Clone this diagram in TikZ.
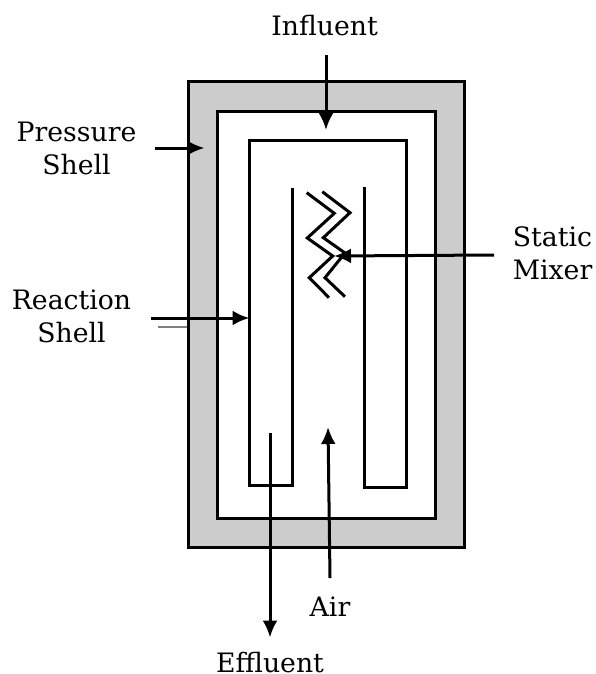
\documentclass[tikz,border=0pt]{standalone}
\usepackage{fontspec}
\setmainfont{DejaVu Serif}
\usetikzlibrary{arrows.meta}
\definecolor{shellgray}{HTML}{CCCCCC}
\tikzset{
  wall/.style={draw=black,line width=3pt,line join=miter},
  flow/.style={draw=black,line width=3pt,-{Latex[length=17pt,width=15pt]},shorten >=0pt},
  lbl/.style={font=\fontsize{26.7pt}{33pt}\selectfont,align=center,inner sep=0pt,text=black}
}
\begin{document}
\begin{tikzpicture}[x=1pt,y=-1pt]
\useasboundingbox (0,0) rectangle (595,674);
\node[draw=black,line width=3pt,fill=shellgray,minimum width=276pt,minimum height=465pt,inner sep=0pt] (pressure) at (326,314.5) {};
\node[draw=black,line width=3pt,fill=white,minimum width=218pt,minimum height=406pt,inner sep=0pt] (reaction) at (326,315) {};
\draw[wall] (292.7,188) -- (292.7,485) -- (249,485) -- (249,140) -- (406,140) -- (406,487) -- (364,487) -- (364,187);
\draw[wall] (306.7,192.7) -- (334.3,213.3) -- (307.3,238) -- (332.7,256) -- (309.3,277.7) -- (329,297.7);
\draw[wall] (322.3,191.7) -- (350,212.7) -- (323.3,237.7) -- (345,253) -- (325,277.7) -- (345,296.7);
\draw[draw=gray,line width=2pt] (158,326.7) -- (187,326.7);
\node[lbl] (influent) at (324.5,26) {Influent};
\node[lbl] (pressureL) at (76.5,148) {Pressure\\Shell};
\node[lbl] (reactionL) at (71.5,316) {Reaction\\Shell};
\node[lbl] (mixerL) at (552.5,253) {Static\\Mixer};
\node[lbl] (air) at (330,607) {Air};
\node[lbl] (effluent) at (270,662.8) {Effluent};
\coordinate (a1) at (326,55); \coordinate (a2) at (326,130);
\coordinate (b1) at (155,148); \coordinate (b2) at (204.5,148);
\coordinate (c1) at (151,318); \coordinate (c2) at (249.5,318);
\coordinate (d1) at (494,255); \coordinate (d2) at (334,256);
\coordinate (e1) at (330,578); \coordinate (e2) at (328,427);
\coordinate (f1) at (270,433); \coordinate (f2) at (270,637.5);
\draw[flow] (a1) -- (a2);
\draw[flow] (b1) -- (b2);
\draw[flow] (c1) -- (c2);
\draw[flow] (d1) -- (d2);
\draw[flow] (e1) -- (e2);
\draw[flow] (f1) -- (f2);
\end{tikzpicture}
\end{document}
